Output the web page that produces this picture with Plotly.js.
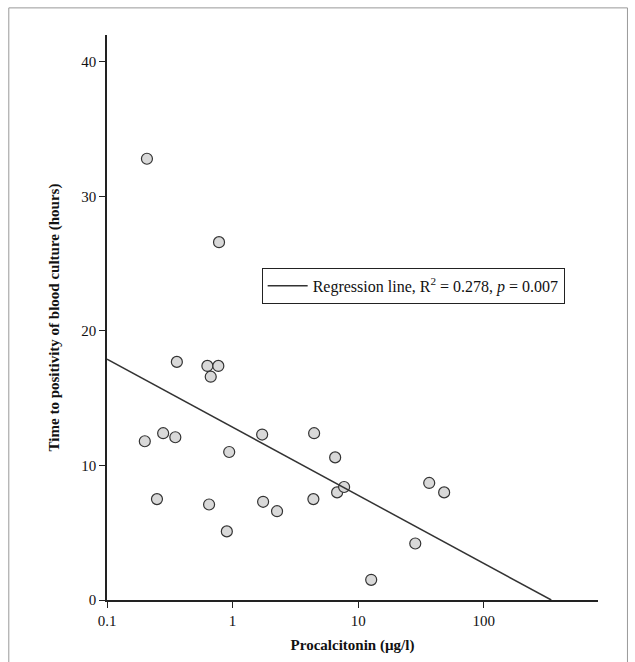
<!DOCTYPE html><html><head><script src="https://cdn.plot.ly/plotly-3.0.1.min.js"></script></head><body style="margin:0">
<div id="c" style="width:635px;height:662px"></div>
<script>
const pct=[0.208,0.78,0.36,0.63,0.77,0.67,0.20,0.28,0.35,0.94,0.25,0.65,0.90,1.72,1.75,2.26,4.46,4.4,6.56,6.8,7.73,12.7,28.5,36.8,48.4];
const ttp=[32.8,26.6,17.7,17.4,17.4,16.6,11.8,12.4,12.1,11.0,7.5,7.1,5.1,12.3,7.3,6.6,12.4,7.5,10.6,8.0,8.4,1.5,4.2,8.7,8.0];
const regX=[0.1,345];
const regY=[17.9,0];
const tickVals=[0.1,1,10,100];
const tickText=['0.1','1','10','100'];
Plotly.newPlot('c',[
{x:pct,y:ttp,mode:'markers',type:'scatter',showlegend:false,marker:{size:11,color:'#d9d9d9',line:{color:'#333',width:1.2}}},
{x:regX,y:regY,mode:'lines',type:'scatter',name:'Regression line, R<sup>2</sup> = 0.278, <i>p</i> = 0.007',line:{color:'#333',width:1.5}}
],{
width:635,height:662,margin:{l:107,r:37,t:35,b:62},
font:{family:'Liberation Serif, Times New Roman, serif',size:15,color:'#111'},
paper_bgcolor:'white',plot_bgcolor:'white',
xaxis:{type:'log',range:[-1,2.91],tickvals:tickVals,ticktext:tickText,showgrid:false,zeroline:false,showline:true,linecolor:'#222',linewidth:1.5,ticks:'outside',ticklen:6,tickcolor:'#222',
 title:{text:'<b>Procalcitonin (µg/l)</b>',font:{size:15},standoff:12}},
yaxis:{range:[0,42],tickvals:[0,10,20,30,40],showgrid:false,zeroline:false,showline:true,linecolor:'#222',linewidth:1.5,ticks:'outside',ticklen:6,tickcolor:'#222',
 title:{text:'<b>Time to positivity of blood culture (hours)</b>',font:{size:15},standoff:18}},
legend:{x:0.315,y:0.556,xanchor:'left',yanchor:'middle',bgcolor:'white',bordercolor:'#222',borderwidth:1,font:{size:16},itemwidth:40},
shapes:[{type:'rect',xref:'paper',yref:'paper',x0:-0.2,x1:1.06,y0:-0.2,y1:1.048,line:{color:'#999',width:1}}]
},{displayModeBar:false});
</script></body></html>
